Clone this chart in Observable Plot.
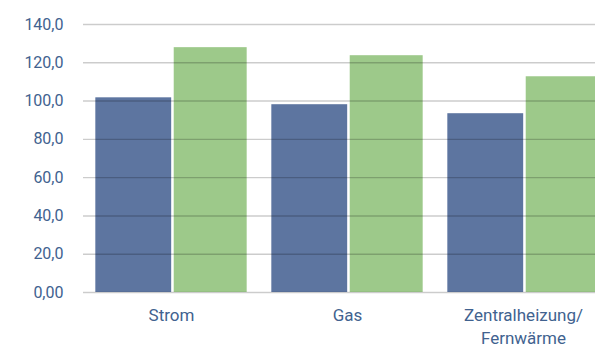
<!DOCTYPE html>
<html>
<head>
<meta charset="utf-8">
<script src="https://cdn.jsdelivr.net/npm/d3@7"></script>
<script src="https://cdn.jsdelivr.net/npm/@observablehq/plot@0.6"></script>
<style>
  html, body { margin: 0; padding: 0; background: #fff; overflow: hidden; }
  #chart { width: 595px; height: 348px; overflow: hidden; }
</style>
</head>
<body>
<div id="chart"></div>
<script>
const categories = ["Strom", "Gas", "Zentralheizung/\nFernwärme"];
const seriesBlue = [101.7, 98.1, 93.4];
const seriesGreen = [127.9, 123.7, 112.7];
const yTicks = [0, 20, 40, 60, 80, 100, 120, 140];
const yTickLabels = ["0,00", "20,0", "40,0", "60,0", "80,0", "100,0", "120,0", "140,0"];

const blueData = categories.map((c, i) => ({category: c, value: seriesBlue[i]}));
const greenData = categories.map((c, i) => ({category: c, value: seriesGreen[i]}));

const textColor = "#41628f";

const plot = Plot.plot({
  width: 595,
  height: 348,
  marginLeft: 83,
  marginRight: 0,
  marginTop: 24,
  marginBottom: 56,
  style: {fontFamily: "Roboto, sans-serif", background: "#fff", overflow: "hidden"},
  x: {type: "band", domain: categories, range: [83, 611], paddingInner: 0.14, paddingOuter: 0.07, round: false},
  y: {domain: [0, 140]},
  marks: [
    Plot.barY(blueData, {x: "category", y: "value", fill: "#5d75a0", insetLeft: 0, insetRight: 75.5}),
    Plot.barY(greenData, {x: "category", y: "value", fill: "#9dc98a", insetLeft: 78.4, insetRight: 0}),
    Plot.ruleY(yTicks, {stroke: "#000", strokeOpacity: 0.2, strokeWidth: 1.4}),
    Plot.axisY({ticks: yTicks, tickFormat: (d) => yTickLabels[yTicks.indexOf(d)], tickSize: 0, tickPadding: 20, label: null, fill: textColor, fontSize: 16, fontFamily: "Liberation Sans Narrow, Roboto, sans-serif"}),
    Plot.axisX({tickSize: 0, tickPadding: 12, label: null, fill: textColor, fontSize: 17, lineHeight: 1.37})
  ]
});
document.getElementById("chart").appendChild(plot);
</script>
</body>
</html>
